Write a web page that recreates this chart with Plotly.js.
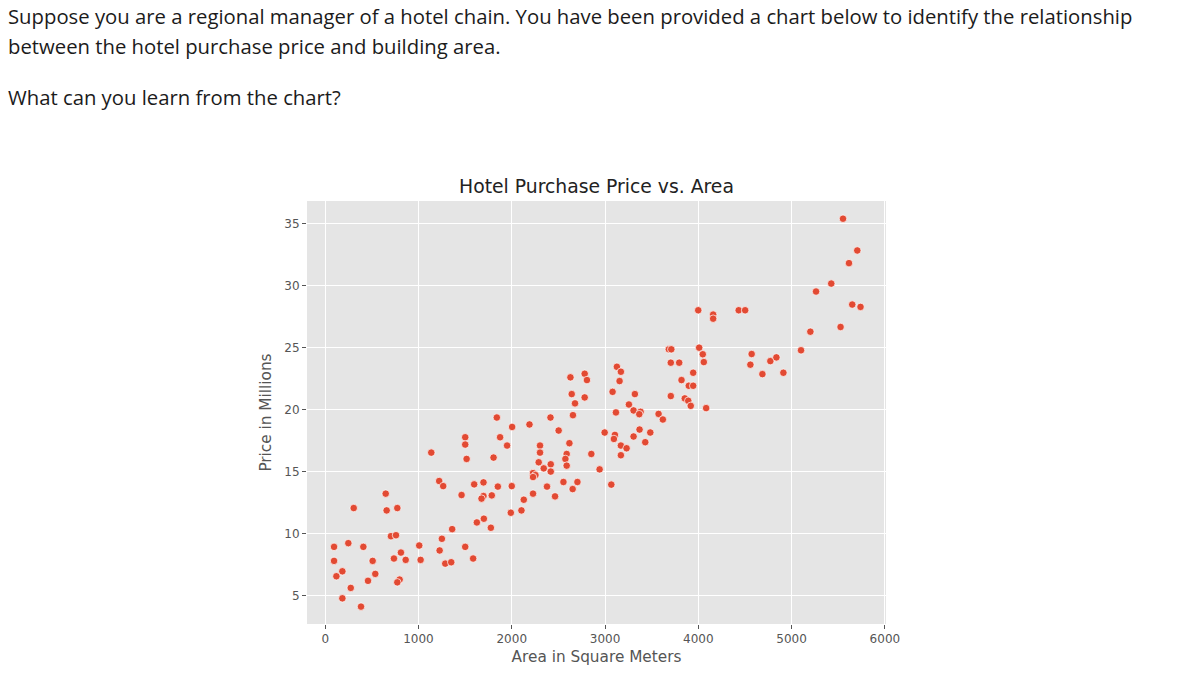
<!DOCTYPE html>
<html>
<head>
<meta charset="utf-8">
<script src="https://cdn.plot.ly/plotly-3.0.1.min.js"></script>
<style>
  html, body { margin: 0; padding: 0; background: #ffffff; }
  #wrap { position: relative; width: 1181px; height: 691px; overflow: hidden; }
  #chart { position: absolute; left: 0; top: 0; width: 1181px; height: 691px; }
  .q { position: absolute; left: 8px; color: #1b1b1b; font-family: "Open Sans", "Lato", sans-serif; font-size: 17.5px; white-space: nowrap; pointer-events: none; }
</style>
</head>
<body>
<div id="wrap">
  <div id="chart"></div>
  <div class="q" id="l1" style="top:2px;">Suppose you are a regional manager of a hotel chain. You have been provided a chart below to identify the relationship</div>
  <div class="q" id="l2" style="top:32px;">between the hotel purchase price and building area.</div>
  <div class="q" id="l3" style="top:83px;">What can you learn from the chart?</div>
</div>
<script>
// Area in square meters
const area = [
  1222, 1265, 1597, 1697, 1851, 649, 1462, 1697, 1676, 1786,
  306, 659, 773, 1626, 1701, 1776, 1361, 705, 759, 1251,
  95, 248, 409, 1008, 1227, 1501, 812, 95, 509, 737,
  863, 1023, 1287, 1351, 1586, 184, 120, 537, 459, 798,
  773, 274, 184, 384,
  2678, 1840, 2415, 2656, 2004, 2190, 2503, 1501, 1875, 1501,
  1950, 2303, 2618, 1137, 2303, 2589, 2853, 1516, 1805, 2575,
  2289, 2418, 2589, 2343, 2418, 2942, 2228, 2254, 2228, 2000,
  2554, 2704, 2378, 2653, 2129, 2228, 2464, 2104, 1990,
  3705, 3795, 3945, 3127, 3170, 2629, 2782, 2806, 3156, 3820,
  3898, 3945, 2643, 2782, 3081, 3320, 3705, 3855, 3892, 3919,
  3256, 3117, 3306, 3381, 3367, 3574, 3620, 2996, 3106, 3095,
  3370, 3485, 3306, 3431, 3170, 3231, 3170, 3067,
  3684, 3710, 4009, 4048, 4059, 4084,
  5551, 5704, 5615, 5425, 5262, 5650, 5739, 5525, 5201, 5101,
  3999, 4159, 4159, 4433, 4502, 4572, 4558, 4772, 4837, 4687, 4912
];
// Purchase price in millions
const price = [
  14.25, 13.84, 13.98, 14.14, 13.80, 13.23, 13.12, 13.04, 12.83, 13.09,
  12.07, 11.88, 12.07, 10.91, 11.21, 10.48, 10.37, 9.80, 9.88, 9.59,
  8.94, 9.24, 8.94, 9.05, 8.65, 8.94, 8.48, 7.81, 7.81, 8.00,
  7.89, 7.89, 7.59, 7.70, 8.00, 6.97, 6.57, 6.76, 6.20, 6.30,
  6.08, 5.63, 4.79, 4.12,
  20.51, 19.37, 19.37, 19.56, 18.61, 18.81, 18.32, 17.78, 17.78, 17.19,
  17.11, 17.11, 17.30, 16.54, 16.54, 16.43, 16.43, 16.03, 16.14, 16.03,
  15.76, 15.60, 15.49, 15.27, 15.01, 15.19, 14.89, 14.73, 14.57, 13.84,
  14.17, 14.17, 13.80, 13.60, 12.74, 13.23, 13.01, 11.88, 11.69,
  23.79, 23.79, 22.98, 23.46, 23.06, 22.61, 22.90, 22.39, 22.31, 22.39,
  21.93, 21.93, 21.26, 20.99, 21.44, 21.26, 21.10, 20.91, 20.72, 20.31,
  20.42, 19.78, 19.94, 19.83, 19.64, 19.66, 19.21, 18.16, 17.97, 17.64,
  18.40, 18.16, 17.84, 17.38, 17.11, 16.89, 16.33, 13.96,
  24.87, 24.87, 25.00, 24.47, 23.84, 20.13,
  35.40, 32.84, 31.82, 30.17, 29.53, 28.48, 28.29, 26.67, 26.29, 24.79,
  28.02, 27.67, 27.34, 28.02, 28.02, 24.49, 23.63, 23.92, 24.22, 22.87, 22.98
];
const chartTitle = "Hotel Purchase Price vs. Area";
const xTitle = "Area in Square Meters";
const yTitle = "Price in Millions";

const trace = {
  type: "scatter",
  mode: "markers",
  x: area,
  y: price,
  marker: { color: "#E24A33", size: 7.5, line: { color: "#ffffff", width: 0.7 } },
  hoverinfo: "skip"
};

const axisCommon = {
  showgrid: true, gridcolor: "#ffffff", gridwidth: 1,
  zeroline: false, showline: false,
  ticks: "outside", ticklen: 4, tickwidth: 1, tickcolor: "#555555",
  tickfont: { family: "DejaVu Sans", size: 12, color: "#555555" }
};

const layout = {
  width: 1181, height: 691,
  margin: { l: 307, r: 295, t: 201, b: 67, pad: 0 },
  paper_bgcolor: "rgba(0,0,0,0)",
  plot_bgcolor: "#E5E5E5",
  showlegend: false,
  title: {
    text: chartTitle,
    font: { family: "DejaVu Sans", size: 18.8, color: "#222222" },
    x: 0.5, xref: "paper", xanchor: "center",
    y: 1, yref: "paper", yanchor: "bottom", pad: { b: 8 }
  },
  xaxis: Object.assign({}, axisCommon, {
    range: [-195, 6012], tick0: 0, dtick: 1000,
    title: { text: xTitle, font: { family: "DejaVu Sans", size: 15.3, color: "#555555" }, standoff: 5 }
  }),
  yaxis: Object.assign({}, axisCommon, {
    range: [2.72, 36.83], tick0: 0, dtick: 5,
    title: { text: yTitle, font: { family: "DejaVu Sans", size: 15.3, color: "#555555" }, standoff: 8 }
  })
};

Plotly.newPlot("chart", [trace], layout, { displayModeBar: false, staticPlot: true });

// fit first question line to its width in the reference
(function () {
  const l1 = document.getElementById("l1");
  const target = 1125;
  const w = l1.getBoundingClientRect().width;
  if (w > 0) {
    const fs = 17.5 * target / w;
    document.querySelectorAll(".q").forEach(function (el) { el.style.fontSize = fs.toFixed(2) + "px"; });
  }
})();
</script>
</body>
</html>
